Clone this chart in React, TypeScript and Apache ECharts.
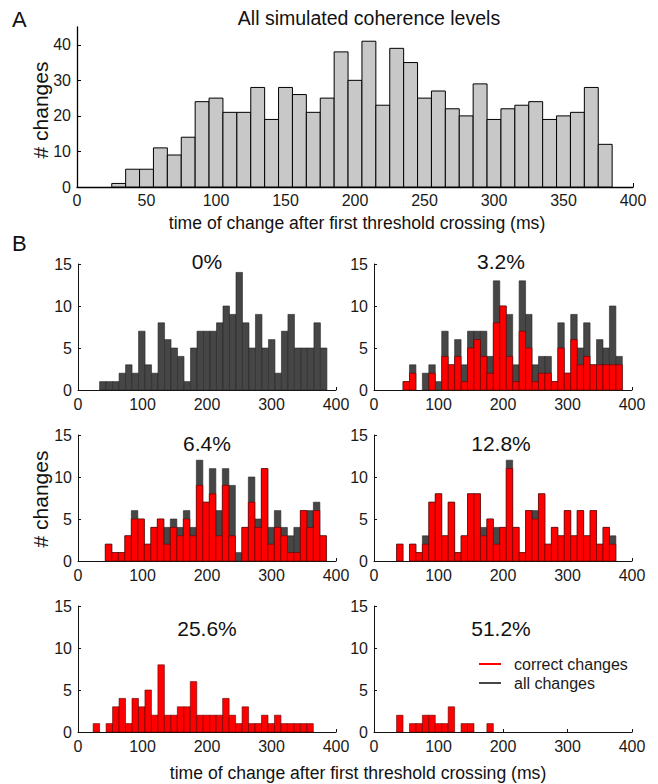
import React, { useEffect, useRef } from 'react';
import * as echarts from 'echarts';

const FONT = '"Liberation Sans", Arial, Helvetica, sans-serif';

// ---------- Data ----------
// Panel A: all simulated coherence levels (10 ms bins, first bin centred at 30 ms)
const allLevelsCounts = [1, 5, 5, 11, 9, 14, 24, 25, 21, 21, 28, 19, 28, 26, 21, 25, 38, 30, 41, 23, 39, 35, 25, 27, 22, 20, 29, 19, 22, 23, 24, 19, 20, 21, 28, 12];
const allLevelsBin = { first: 30, width: 10 };

// Panel B: per coherence level
const coh0All = [1, 1, 1, 2, 3, 2, 7, 3, 2, 8, 6, 5, 4, 1, 5, 7, 7, 7, 8, 10, 9, 14, 8, 5, 9, 5, 6, 2, 7, 9, 5, 5, 5, 8, 5];
const coh0Bin = { first: 38.5, width: 10.07 };

const coh32All = [1, 3, 0, 2, 3, 1, 7, 3, 6, 3, 7, 7, 7, 4, 13, 10, 9, 3, 13, 9, 3, 4, 4, 1, 8, 2, 9, 5, 8, 3, 6, 5, 10, 4];
const coh32Correct = [1, 2, 0, 0, 2, 0, 4, 3, 4, 1, 5, 6, 4, 2, 8, 10, 4, 1, 7, 5, 1, 2, 2, 1, 5, 2, 6, 3, 4, 3, 3, 3, 3, 3];
const coh32Bin = { first: 50, width: 10 };

const coh64All = [2, 1, 1, 3, 6, 5, 2, 4, 5, 4, 5, 4, 6, 4, 12, 7, 11, 6, 11, 9, 1, 4, 10, 5, 11, 4, 6, 4, 3, 4, 6, 6, 7, 3];
const coh64Correct = [2, 1, 1, 3, 5, 5, 2, 4, 5, 2, 4, 3, 5, 3, 9, 7, 8, 3, 9, 3, 0, 4, 7, 4, 11, 2, 4, 3, 1, 1, 6, 4, 6, 3];
const coh64Bin = { first: 47.4, width: 10.08 };

const coh128All = [2, 0, 2, 1, 3, 7, 8, 3, 7, 1, 3, 8, 8, 4, 5, 4, 4, 12, 4, 1, 6, 6, 8, 2, 4, 3, 6, 3, 6, 3, 6, 2, 4, 3];
const coh128Correct = [2, 0, 2, 1, 2, 7, 8, 3, 7, 1, 3, 8, 8, 3, 5, 2, 4, 11, 4, 1, 6, 5, 8, 2, 4, 3, 6, 3, 6, 3, 6, 2, 4, 2];
const coh128Bin = { first: 40, width: 10 };

const coh256Correct = [1, 0, 1, 3, 4, 1, 4, 3, 5, 2, 8, 2, 2, 3, 3, 6, 2, 2, 2, 2, 4, 2, 1, 3, 1, 1, 2, 1, 2, 1, 1, 1, 1, 1];
const coh256Bin = { first: 28.5, width: 10.04 };

const coh512Correct = [2, 0, 1, 1, 2, 2, 1, 1, 3, 0, 1, 1, 0, 0, 1];
const coh512Bin = { first: 40, width: 10 };

const coherenceLabels = ['0%', '3.2%', '6.4%', '12.8%', '25.6%', '51.2%'];
const xTicksA = [0, 50, 100, 150, 200, 250, 300, 350, 400];
const yTicksA = [0, 10, 20, 30, 40];
const xTicksB = [0, 100, 200, 300, 400];
const yTicksB = [0, 5, 10, 15];

const X_TITLE = 'time of change after first threshold crossing (ms)';
const Y_TITLE = '# changes';
const SERIES_CORRECT = 'correct changes';
const SERIES_ALL = 'all changes';

// ---------- Layout ----------
const GRID_A = { left: 77, top: 27, width: 556, height: 160 };
const SMALL_W = 258;
const SMALL_H = 126;
const COL_LEFT = [78, 374];
const ROW_TOP = [264, 435, 606];

const GRAY_A = '#c8c8c8';
const GRAY_B = '#464646';
const RED = '#ff0000';

type Bin = { first: number; width: number };

function toPoints(values: number[], bin: Bin) {
  return values.map((v, i) => [bin.first + i * bin.width, v]);
}

function makeRender(width: number, fill: string, stroke: string, lw: number) {
  return (_params: any, api: any) => {
    const x = api.value(0);
    const v = api.value(1);
    if (!v) return null;
    const p0 = api.coord([x - width / 2, v]);
    const p1 = api.coord([x + width / 2, 0]);
    return {
      type: 'rect',
      shape: { x: p0[0], y: p0[1], width: p1[0] - p0[0], height: p1[1] - p0[1] },
      style: { fill, stroke, lineWidth: lw },
    };
  };
}

function txt(text: string, x: number, y: number, size: number, extra: any = {}) {
  const { alignLeft, ...rest } = extra;
  return {
    type: 'text', x, y, ...rest,
    style: {
      text, font: `${size}px ${FONT}`, fill: '#111',
      align: alignLeft ? 'left' : 'center', verticalAlign: 'middle',
      textAlign: alignLeft ? 'left' : 'center', textVerticalAlign: 'middle',
    },
  };
}

export default function App() {
  const ref = useRef<HTMLDivElement>(null);

  useEffect(() => {
    document.body.style.margin = '0';
    const chart = echarts.init(ref.current!, null, { renderer: 'svg' });

    const panels = [
      { label: coherenceLabels[0], bin: coh0Bin, all: coh0All, correct: null as number[] | null },
      { label: coherenceLabels[1], bin: coh32Bin, all: coh32All, correct: coh32Correct },
      { label: coherenceLabels[2], bin: coh64Bin, all: coh64All, correct: coh64Correct },
      { label: coherenceLabels[3], bin: coh128Bin, all: coh128All, correct: coh128Correct },
      { label: coherenceLabels[4], bin: coh256Bin, all: null as number[] | null, correct: coh256Correct },
      { label: coherenceLabels[5], bin: coh512Bin, all: null as number[] | null, correct: coh512Correct },
    ];

    const axisLine = { show: true, lineStyle: { color: '#111', width: 1 } };
    const labelStyle = { color: '#1a1a1a', fontSize: 16, fontFamily: FONT };

    const grids: any[] = [{ ...GRID_A }];
    const xAxes: any[] = [
      {
        type: 'value', gridIndex: 0, min: 0, max: 400, interval: 50,
        axisLine: { show: true, lineStyle: { color: '#000', width: 1.3 } },
        axisTick: { show: true, inside: true, length: 4, lineStyle: { color: '#000' }, customValues: xTicksA },
        axisLabel: { ...labelStyle, margin: 5, customValues: xTicksA },
        splitLine: { show: false },
      },
    ];
    const yAxes: any[] = [
      {
        type: 'value', gridIndex: 0, min: 0, max: 45, interval: 5,
        axisLine: { show: true, lineStyle: { color: '#000', width: 1.3 } },
        axisTick: { show: true, inside: true, length: 4, lineStyle: { color: '#000' }, customValues: yTicksA },
        axisLabel: { ...labelStyle, margin: 6, customValues: yTicksA },
        splitLine: { show: false },
      },
    ];
    const series: any[] = [
      {
        type: 'custom', name: 'all simulated', xAxisIndex: 0, yAxisIndex: 0,
        renderItem: makeRender(allLevelsBin.width, GRAY_A, '#000', 1),
        encode: { x: 0, y: 1 },
        data: toPoints(allLevelsCounts, allLevelsBin),
        itemStyle: { color: GRAY_A },
      },
    ];

    const graphics: any[] = [
      txt('A', 12, 19, 22, { alignLeft: true }),
      txt('B', 12, 243, 22, { alignLeft: true }),
      txt('All simulated coherence levels', 369, 18, 19.5),
      txt(X_TITLE, 357, 223, 17.6),
      txt(X_TITLE, 358, 773, 17.6),
      txt(Y_TITLE, 40, 110, 21, { rotation: Math.PI / 2 }),
      txt(Y_TITLE, 40, 499, 21, { rotation: Math.PI / 2 }),
    ];

    panels.forEach((p, k) => {
      const idx = k + 1;
      const left = COL_LEFT[k % 2];
      const top = ROW_TOP[Math.floor(k / 2)];
      grids.push({ left, top, width: SMALL_W, height: SMALL_H });
      xAxes.push({
        type: 'value', gridIndex: idx, min: 0, max: 400, interval: 100,
        axisLine,
        axisTick: { show: true, inside: true, length: 3, lineStyle: { color: '#111' }, customValues: xTicksB },
        axisLabel: { ...labelStyle, margin: 6, customValues: xTicksB },
        splitLine: { show: false },
      });
      yAxes.push({
        type: 'value', gridIndex: idx, min: 0, max: 15, interval: 5,
        axisLine,
        axisTick: { show: true, inside: true, length: 3, lineStyle: { color: '#111' }, customValues: yTicksB },
        axisLabel: { ...labelStyle, margin: 6, customValues: yTicksB },
        splitLine: { show: false },
      });
      if (p.all) {
        series.push({
          type: 'custom', name: SERIES_ALL, xAxisIndex: idx, yAxisIndex: idx,
          renderItem: makeRender(p.bin.width, GRAY_B, '#262626', 0.6),
          encode: { x: 0, y: 1 },
          data: toPoints(p.all, p.bin),
          itemStyle: { color: GRAY_B },
        });
      }
      if (p.correct) {
        series.push({
          type: 'custom', name: SERIES_CORRECT, xAxisIndex: idx, yAxisIndex: idx,
          renderItem: makeRender(p.bin.width, RED, '#5a0000', 0.6),
          encode: { x: 0, y: 1 },
          data: toPoints(p.correct, p.bin),
          itemStyle: { color: RED },
        });
      }
      const dy = k < 2 ? -3 : k < 4 ? 8 : 22;
      graphics.push(txt(p.label, left + SMALL_W / 2 + (k % 2 ? -2 : 0), top + dy, 21));
    });

    chart.setOption({
      animation: false,
      backgroundColor: '#ffffff',
      grid: grids,
      xAxis: xAxes,
      yAxis: yAxes,
      series,
      legend: {
        data: [SERIES_CORRECT, SERIES_ALL],
        orient: 'vertical',
        left: 474,
        top: 651,
        icon: 'rect',
        itemWidth: 22,
        itemHeight: 2,
        itemGap: 3,
        selectedMode: false,
        textStyle: { color: '#1a1a1a', fontSize: 16, fontFamily: FONT, lineHeight: 16, padding: [0, 0, 0, 8] },
      },
      graphic: graphics,
    });

    return () => chart.dispose();
  }, []);

  return <div ref={ref} style={{ width: 658, height: 784 }} />;
}
